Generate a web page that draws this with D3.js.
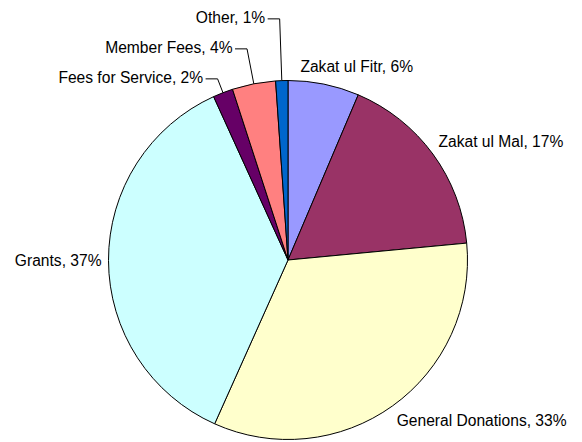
<!DOCTYPE html>
<html>
<head>
<meta charset="utf-8">
<script src="https://cdn.jsdelivr.net/npm/d3@7"></script>
<style>
  body { margin: 0; background: #fff; }
  text { font-family: 'Liberation Sans', Arial, sans-serif; font-size: 15.6px; fill: #000; }
</style>
</head>
<body>
<div id="chart"></div>
<script>
// slices, clockwise from 12 o'clock
let categories = ['Zakat ul Fitr', 'Zakat ul Mal', 'General Donations', 'Grants', 'Fees for Service', 'Member Fees', 'Other']
let values = [6.4, 17.1, 33.2, 36.5, 1.8, 3.9, 1.1]
let colors = ['#9999ff', '#993366', '#ffffcc', '#ccffff', '#660066', '#ff8080', '#0066cc']

let width = 582
let height = 442
let cx = 288
let cy = 260
let radius = 179.5
let fontSize = 15.6

let data = categories.map((c, i) => ({ name: c, value: values[i], color: colors[i] }))

let svg = d3
  .select('#chart')
  .append('svg')
  .attr('width', width)
  .attr('height', height)
  .append('g')
  .attr('transform', 'translate(' + cx + ',' + cy + ')')

let pie = d3.pie().sort(null).value(d => d.value)
let arc = d3.arc().innerRadius(0).outerRadius(radius)
let arcs = pie(data)

svg
  .selectAll('.slice')
  .data(arcs)
  .enter()
  .append('path')
  .attr('class', 'slice')
  .attr('d', arc)
  .attr('fill', d => d.data.color)
  .attr('stroke', '#000')
  .attr('stroke-width', 1)

// point on a circle of radius r at a pie angle
function pointAt(angle, r) {
  return [Math.sin(angle) * r, -Math.cos(angle) * r]
}
let clamp = v => Math.max(0, Math.min(1, v))

let asc = fontSize * 0.905
let boxH = fontSize * 1.117
let prevBaseline = null

arcs.forEach(d => {
  let mid = (d.startAngle + d.endAngle) / 2
  let dx = Math.sin(mid)
  let dy = -Math.cos(mid)
  let label = d.data.name + ', ' + Math.round(d.data.value) + '%'

  let text = svg.append('text').text(label)
  let w = text.node().getComputedTextLength()

  // excel-ish outside-end placement: box corner sits next to the arc
  let [px, py] = pointAt(mid, radius + 7)
  let f = clamp(0.5 - dx * 1.4)
  let g = clamp(0.5 - dy * 1.4)
  let baseline = py - g * boxH + asc

  if (d.data.value < 5) {
    // small slices get stacked upwards with leader lines
    if (prevBaseline !== null) baseline = Math.min(baseline, prevBaseline - 30)
    prevBaseline = baseline
    let [ax, ay] = pointAt(mid, radius)
    let elbowY = baseline - 4
    let s = (elbowY - ay) / dy
    let elbowX = ax + s * dx
    svg
      .append('polyline')
      .attr('points', [[ax, ay], [elbowX, elbowY], [elbowX - 12, elbowY]].join(' '))
      .attr('fill', 'none')
      .attr('stroke', '#000')
      .attr('stroke-width', 1)
    text.attr('x', elbowX - 14.5).attr('y', baseline).attr('text-anchor', 'end')
  } else {
    text.attr('x', px - f * w).attr('y', baseline - 2 * Math.max(0, -dy - 0.9) * 10)
  }
})
</script>
</body>
</html>
